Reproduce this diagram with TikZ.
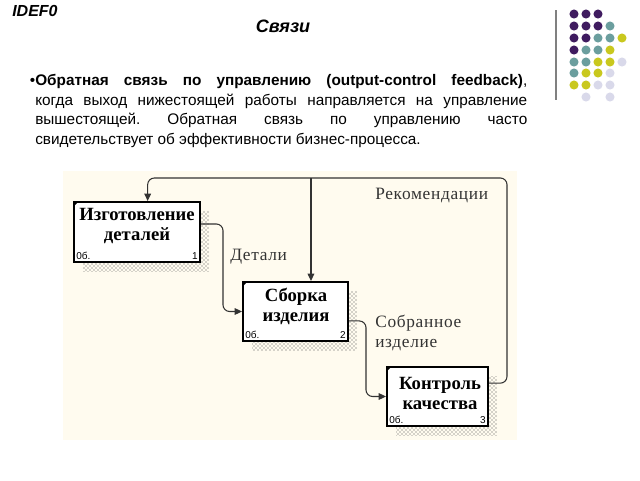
\documentclass[tikz,border=0pt]{standalone}
\usepackage{fontspec}
\setmainfont{Liberation Serif}
\setsansfont{Liberation Sans}
\newfontfamily\boxfont{Liberation Serif}
\newfontfamily\lblfont[LetterSpace=4]{Liberation Serif}
\usetikzlibrary{patterns,arrows.meta,calc}
\frenchspacing
\definecolor{cream}{HTML}{FFFBEF}
\definecolor{dpurple}{HTML}{3F1B60}
\definecolor{dteal}{HTML}{6B9E9E}
\definecolor{dyellow}{HTML}{C9C81E}
\definecolor{dlav}{HTML}{D9D9EA}
\definecolor{lnc}{HTML}{333333}
\tikzset{
  fbox/.style={draw=black, line width=1.5pt, fill=white, inner sep=0},
  shade/.style={pattern=crosshatch dots, pattern color=black!70},
  conn/.style={draw=lnc, line width=0.8pt, rounded corners=5pt},
  arr/.style={-{Triangle[length=5.5pt,width=5pt]}},
  boxtxt/.style={font=\boxfont\bfseries\fontsize{14}{15}\selectfont, align=center, inner sep=0},
  lbl/.style={font=\lblfont\fontsize{13}{15}\selectfont, align=left, inner sep=0, anchor=west, text=lnc},
  small/.style={font=\sffamily\fontsize{7.5}{8}\selectfont, inner sep=0},
  dot/.style={circle, inner sep=0, minimum size=6.8pt}
}
\begin{document}
\begin{tikzpicture}[x=0.75pt,y=-0.75pt]
\useasboundingbox (0,0) rectangle (640,480);
\fill[white] (0,0) rectangle (640,480);

% titles
\node[font=\sffamily\bfseries\itshape\fontsize{12}{14}\selectfont, anchor=west, inner sep=0] (tidef) at (12,11) {IDEF0};
\node[font=\sffamily\bfseries\itshape\fontsize{13.5}{15}\selectfont, inner sep=0] (tsv) at (283,26) {Связи};

% decoration
\draw[gray, line width=1.5pt] (556,10) -- (556,100);
\foreach \row/\yy/\list in {1/14/{1/dpurple,2/dpurple,3/dpurple},
  2/26/{1/dpurple,2/dpurple,3/dpurple,4/dteal},
  3/38/{1/dpurple,2/dpurple,3/dteal,4/dteal,5/dyellow},
  4/50/{1/dpurple,2/dteal,3/dteal,4/dyellow},
  5/62/{1/dteal,2/dteal,3/dyellow,4/dyellow,5/dlav},
  6/73/{1/dteal,2/dyellow,3/dyellow,4/dlav},
  7/85/{1/dyellow,2/dyellow,3/dlav,4/dlav},
  8/97/{2/dlav,4/dlav}}{
  \foreach \c/\col in \list {
    \node[dot, fill=\col] (d\row\c) at ({562+12*\c},\yy) {};
  }
}

% paragraph
\node[anchor=north west, inner sep=0, text width=369pt, align=justify,
  font=\sffamily\fontsize{11.5}{14.8}\selectfont] (para) at (35,74)
  {\llap{•}\textbf{Обратная связь по управлению (output-control feedback)},\linebreak
   когда выход нижестоящей работы направляется на управление\linebreak
   вышестоящей. Обратная связь по управлению часто\linebreak
   свидетельствует об эффективности бизнес-процесса.};

% diagram background
\fill[cream] (63,171) rectangle (517,440);

% shadows
\fill[shade] (83,211) rectangle (209,271);
\fill[shade] (252,291) rectangle (357,350);
\fill[shade] (396,376) rectangle (497,435);

% boxes
\node[fbox, minimum width=94.5pt, minimum height=45pt] (b1) at (137,232) {};
\node[fbox, minimum width=78.75pt, minimum height=44.25pt] (b2) at (295.5,311.5) {};
\node[fbox, minimum width=75.75pt, minimum height=44.25pt] (b3) at (437.5,396.5) {};
\foreach \b in {b1,b2,b3}{
  \fill (\b.north west) -- ++(6,0) -- ++(-6,6) -- cycle;
}

\node[boxtxt] (b1t) at (137,226) {Изготовление\\деталей};
\node[boxtxt] (b2t) at (296,306) {Сборка\\изделия};
\node[boxtxt] (b3t) at (440,393) {Контроль\\качества};

\node[small, anchor=south west] (b1o) at ([shift={(3,-3)}]b1.south west) {0б.};
\node[small, anchor=south east] (b1n) at ([shift={(-3,-3)}]b1.south east) {1};
\node[small, anchor=south west] (b2o) at ([shift={(3,-3)}]b2.south west) {0б.};
\node[small, anchor=south east] (b2n) at ([shift={(-3,-3)}]b2.south east) {2};
\node[small, anchor=south west] (b3o) at ([shift={(3,-3)}]b3.south west) {0б.};
\node[small, anchor=south east] (b3n) at ([shift={(-3,-3)}]b3.south east) {3};

% connection points
\coordinate (o1) at ([yshift=6pt]b1.east);
\coordinate (o2) at ([yshift=-7pt]b2.east);
\coordinate (o3) at ([yshift=10pt]b3.east);
\coordinate (t1) at ([xshift=8pt]b1.north);
\coordinate (t2) at ([xshift=11.6pt]b2.north);
\coordinate (fr) at (507,178);
\coordinate (k1) at (223,224);
\coordinate (k2) at (366,321);

% connectors
\draw[conn, arr] (o3) -| (fr) -| (t1);
\draw[conn, arr] (t2 |- fr) -- (t2);
\draw[conn, arr] (o1) -- (k1) |- (b2.west);
\draw[conn, arr] (o2) -- (k2) |- (b3.west);

% labels
\node[lbl] (lrec) at (375,195) {Рекомендации};
\node[lbl] (ldet) at (230,257) {Детали};
\node[lbl] (lsob) at (375,333) {Собранное\\изделие};
\end{tikzpicture}
\end{document}
